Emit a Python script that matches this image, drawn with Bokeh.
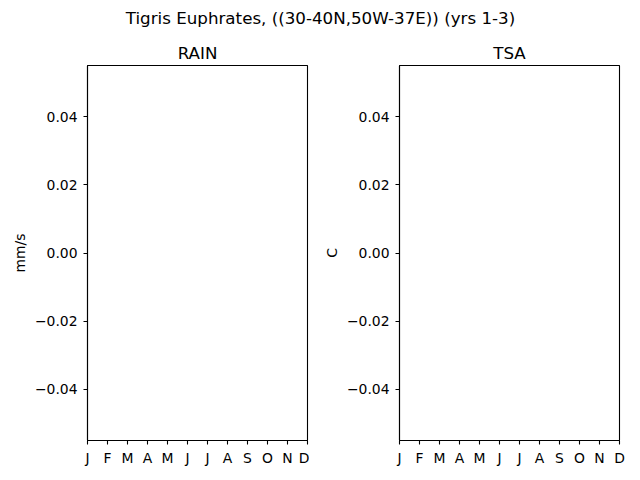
from bokeh.plotting import figure
from bokeh.layouts import column, row
from bokeh.models import Range1d, FixedTicker, CustomJSTickFormatter, ColumnDataSource
from bokeh.core.properties import value
from bokeh.embed import file_html
from bokeh.resources import INLINE

suptitle = "Tigris Euphrates, ((30-40N,50W-37E)) (yrs 1-3)"
panel_titles = ["RAIN", "TSA"]
units = ["mm/s", "C"]
months = ["J", "F", "M", "A", "M", "J", "J", "A", "S", "O", "N", "D"]
month_idx = list(range(12))
y_ticks = [-0.04, -0.02, 0.0, 0.02, 0.04]
rain = []   # no data plotted in the reference
tsa = []

FONT = "DejaVu Sans"

# title strip
t = figure(width=640, height=64, x_range=Range1d(0, 640), y_range=Range1d(0, 64),
           x_axis_type=None, y_axis_type=None, output_backend="svg", title=None,
           toolbar_location=None, min_border=0)
t.outline_line_color = None
t.xgrid.visible = False
t.ygrid.visible = False
t.text(x=[320], y=[47], text=[suptitle], text_font=value(FONT), text_font_size="16.7px",
       text_align="center", text_baseline="alphabetic", text_color="black")
t.text(x=[197, 509], y=[12, 12], text=panel_titles, text_font=value(FONT),
       text_font_size="16.7px", text_align="center", text_baseline="alphabetic",
       text_color="black")


def panel(width, left, right, ylabel, data):
    p = figure(width=width, height=416, x_range=Range1d(0, 11),
               y_range=Range1d(-0.055, 0.055), output_backend="svg", title=None,
               toolbar_location=None, min_border_left=left, min_border_right=right,
               min_border_top=1, min_border_bottom=40)
    p.xgrid.visible = False
    p.ygrid.visible = False
    p.outline_line_color = "black"
    p.outline_line_width = 1.1
    p.outline_line_alpha = 1
    src = ColumnDataSource(dict(x=month_idx[:len(data)], y=data))
    p.line("x", "y", source=src, line_color="#1f77b4")
    for ax in (p.xaxis[0], p.yaxis[0]):
        ax.axis_line_color = "black"
        ax.axis_line_width = 1.1
        ax.major_tick_line_color = "black"
        ax.major_tick_line_width = 1.1
        ax.major_tick_out = 4
        ax.major_tick_in = 0
        ax.minor_tick_line_color = None
        ax.major_label_text_font = FONT
        ax.major_label_text_font_size = "13.9px"
        ax.major_label_text_color = "black"
        ax.axis_label_text_font = FONT
        ax.axis_label_text_font_size = "13.9px"
        ax.axis_label_text_font_style = "normal"
        ax.axis_label_text_color = "black"
    p.xaxis.major_label_standoff = 5
    p.yaxis.major_label_standoff = 6
    p.xaxis.ticker = FixedTicker(ticks=month_idx)
    p.xaxis.major_label_overrides = {i: m for i, m in zip(month_idx, months)}
    p.yaxis.ticker = FixedTicker(ticks=y_ticks)
    p.yaxis.formatter = CustomJSTickFormatter(
        code="var v = Math.abs(tick) < 1e-12 ? 0 : tick; return (v < 0 ? '\u2212' : '') + Math.abs(v).toFixed(2);")
    p.yaxis.axis_label = ylabel
    p.yaxis.axis_label_standoff = 4
    return p


p1 = panel(309, 87, 2, units[0], rain)
p2 = panel(331, 90, 21, units[1], tsa)

layout = column(t, row(p1, p2, spacing=0), spacing=0)
open("out.html", "w").write(file_html(layout, INLINE))
